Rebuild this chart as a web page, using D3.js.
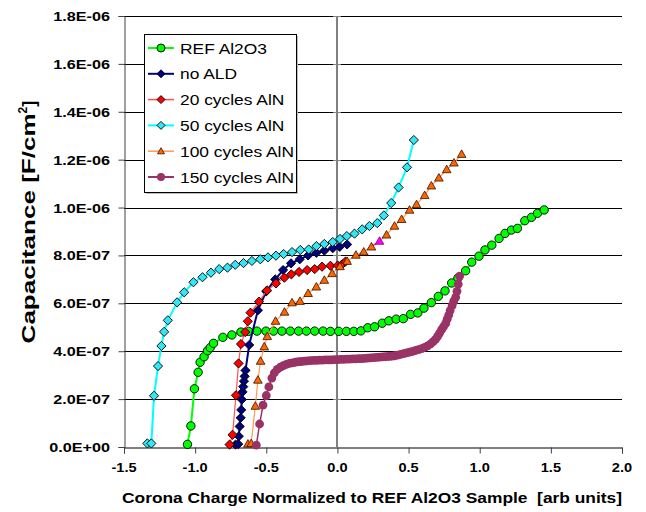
<!DOCTYPE html>
<html><head><meta charset="utf-8">
<script src="https://cdn.jsdelivr.net/npm/d3@7"></script>
<style>
html,body{margin:0;padding:0;background:#fff;}
svg{display:block;font-family:Arial,"Liberation Sans",sans-serif;}
</style></head>
<body>
<svg id="chart" width="646" height="512"></svg>
<script>
// Capacitance values are in units of 1e-7 F/cm^2
const xTicks = [-1.5, -1.0, -0.5, 0.0, 0.5, 1.0, 1.5, 2.0];
const xTickLabels = ["-1.5","-1.0","-0.5","0.0","0.5","1.0","1.5","2.0"];
const yTicks = [0, 2, 4, 6, 8, 10, 12, 14, 16, 18];
const yTickLabels = ["0.0E+00","2.0E-07","4.0E-07","6.0E-07","8.0E-07","1.0E-06","1.2E-06","1.4E-06","1.6E-06","1.8E-06"];
const seriesNames = ["REF Al2O3","no ALD","20 cycles AlN","50 cycles AlN","100 cycles AlN","150 cycles AlN"];

const refAl2O3 = [[-1.054,0.11],[-1.030,0.88],[-1.005,2.43],[-0.979,3.12],[-0.965,3.54],[-0.937,3.77],[-0.913,4.02],[-0.894,4.15],[-0.871,4.33],[-0.805,4.58],[-0.742,4.68],[-0.678,4.80],[-0.625,4.83],[-0.566,4.84],[-0.502,4.84],[-0.449,4.84],[-0.390,4.84],[-0.331,4.84],[-0.273,4.84],[-0.218,4.84],[-0.160,4.84],[-0.101,4.84],[-0.049,4.83],[0.009,4.83],[0.063,4.83],[0.115,4.83],[0.165,4.85],[0.213,4.98],[0.261,5.02],[0.315,5.17],[0.361,5.27],[0.413,5.34],[0.463,5.36],[0.514,5.54],[0.565,5.60],[0.608,5.80],[0.660,6.03],[0.709,6.29],[0.756,6.52],[0.803,6.85],[0.847,7.06],[0.901,7.36],[0.944,7.72],[0.995,7.97],[1.037,8.23],[1.085,8.43],[1.136,8.71],[1.178,8.92],[1.223,9.06],[1.265,9.13],[1.317,9.45],[1.364,9.59],[1.406,9.76],[1.453,9.90]];

const noALD = [[-0.716,0.10],[-0.697,0.12],[-0.693,0.45],[-0.687,0.86],[-0.680,1.22],[-0.676,1.55],[-0.672,1.98],[-0.667,2.30],[-0.662,2.52],[-0.657,2.75],[-0.652,2.95],[-0.646,3.20],[-0.620,4.26],[-0.559,5.71],[-0.500,6.50],[-0.437,7.00],[-0.382,7.39],[-0.326,7.67],[-0.265,7.84],[-0.206,8.00],[-0.148,8.11],[-0.092,8.20],[-0.033,8.30],[0.016,8.36],[0.068,8.46]];

const aln20 = [[-0.758,0.10],[-0.737,0.51],[-0.713,2.16],[-0.695,3.49],[-0.678,4.30],[-0.648,4.80],[-0.630,5.25],[-0.611,5.61],[-0.551,6.07],[-0.495,6.54],[-0.432,6.83],[-0.373,7.07],[-0.324,7.21],[-0.270,7.31],[-0.213,7.39],[-0.160,7.43],[-0.108,7.53],[-0.049,7.57],[0.002,7.58],[0.033,7.63],[0.056,7.74]];

const aln50 = [[-1.336,0.15],[-1.308,0.15],[-1.289,2.14],[-1.261,3.38],[-1.237,4.22],[-1.218,4.81],[-1.192,5.29],[-1.127,6.04],[-1.077,6.46],[-1.012,6.88],[-0.948,7.09],[-0.889,7.28],[-0.831,7.43],[-0.773,7.49],[-0.718,7.61],[-0.660,7.68],[-0.601,7.77],[-0.542,7.84],[-0.488,7.92],[-0.432,7.99],[-0.378,8.06],[-0.319,8.14],[-0.261,8.23],[-0.202,8.25],[-0.148,8.39],[-0.092,8.48],[-0.033,8.56],[0.018,8.69],[0.066,8.81],[0.120,8.91],[0.174,9.09],[0.225,9.23],[0.280,9.35],[0.326,9.67],[0.378,10.19],[0.430,10.84],[0.489,11.68],[0.537,12.82]];

const aln100 = [[-0.629,0.13],[-0.606,0.15],[-0.577,1.71],[-0.559,2.80],[-0.540,3.59],[-0.514,4.19],[-0.493,4.62],[-0.435,5.26],[-0.372,5.64],[-0.319,6.03],[-0.263,6.09],[-0.206,6.42],[-0.148,6.69],[-0.092,6.97],[-0.037,7.25],[0.018,7.54],[0.068,7.76],[0.130,8.02],[0.185,8.15],[0.239,8.36],[0.296,8.60],[0.345,8.86],[0.401,9.23],[0.451,9.51],[0.507,9.90],[0.556,10.13],[0.613,10.51],[0.660,10.91],[0.713,11.24],[0.768,11.59],[0.819,11.87],[0.873,12.23]];
const aln100Odd = [0.296]; // one point drawn in magenta

const aln150 = [[-0.570,0.08],[-0.547,0.96],[-0.523,1.75],[-0.500,2.15],[-0.482,2.51],[-0.461,2.88],[-0.444,3.09],[-0.423,3.24],[-0.401,3.34],[-0.380,3.40],[-0.359,3.45],[-0.338,3.49],[-0.317,3.51],[-0.296,3.54],[-0.275,3.56],[-0.254,3.57],[-0.232,3.59],[-0.211,3.60],[-0.190,3.61],[-0.169,3.62],[-0.148,3.62],[-0.127,3.63],[-0.106,3.63],[-0.085,3.64],[-0.063,3.64],[-0.042,3.64],[-0.021,3.65],[0.000,3.65],[0.021,3.66],[0.042,3.66],[0.063,3.67],[0.085,3.67],[0.106,3.68],[0.127,3.68],[0.148,3.69],[0.169,3.69],[0.190,3.70],[0.211,3.71],[0.232,3.72],[0.254,3.73],[0.275,3.74],[0.296,3.75],[0.317,3.76],[0.338,3.77],[0.359,3.78],[0.380,3.79],[0.401,3.81],[0.423,3.84],[0.444,3.87],[0.465,3.90],[0.486,3.93],[0.507,3.96],[0.528,3.99],[0.549,4.03],[0.570,4.07],[0.592,4.11],[0.613,4.16],[0.634,4.22],[0.655,4.31],[0.673,4.40],[0.690,4.50],[0.704,4.62],[0.718,4.76],[0.732,4.90],[0.746,5.03],[0.761,5.16],[0.771,5.34],[0.782,5.51],[0.792,5.70],[0.806,5.90],[0.817,6.08],[0.831,6.25],[0.840,6.50],[0.849,6.80],[0.859,7.14]];

const colors = {
  ref:   {line:"#00ff00", fill:"#00ff00", stroke:"#000"},
  noald: {line:"#000080", fill:"#000080", stroke:"#000"},
  a20:   {line:"#ff5050", fill:"#ff0000", stroke:"#000"},
  a50:   {line:"#00ffff", fill:"#33e6f5", stroke:"#000"},
  a100:  {line:"#ff9955", fill:"#ff6600", stroke:"#000"},
  a150:  {line:"#993366", fill:"#993366", stroke:"none"}
};

const W = 646, H = 512;
const m = {left:124, right:24, top:16, bottom:65};
const svg = d3.select("#chart");
const x = d3.scaleLinear().domain([-1.5, 2.0]).range([m.left, W - m.right]);
const y = d3.scaleLinear().domain([0, 18]).range([H - m.bottom, m.top]);
const FONT = "Arial, 'Liberation Sans', sans-serif";

// gridlines
svg.append("g").selectAll("line").data(yTicks.slice(1)).join("line")
  .attr("x1", m.left).attr("x2", W - m.right)
  .attr("y1", d => Math.round(y(d)) + 0.5).attr("y2", d => Math.round(y(d)) + 0.5)
  .attr("stroke", "#000").attr("stroke-width", 1);

// vertical zero line (gray)
svg.append("line").attr("x1", Math.round(x(0))).attr("x2", Math.round(x(0)))
  .attr("y1", m.top).attr("y2", H - m.bottom)
  .attr("stroke", "#808080").attr("stroke-width", 2);
svg.append("g").selectAll("line").data(yTicks.slice(1)).join("line")
  .attr("x1", Math.round(x(0)) - 4).attr("x2", Math.round(x(0)) + 4)
  .attr("y1", d => Math.round(y(d)) + 0.5).attr("y2", d => Math.round(y(d)) + 0.5)
  .attr("stroke", "#808080").attr("stroke-width", 1);

// y axis (left)
const yAxis = d3.axisLeft(y).tickValues(yTicks).tickSize(6).tickPadding(0)
  .tickFormat(() => "");
const gy = svg.append("g").attr("transform", `translate(${m.left + 0.5},0)`).call(yAxis);
gy.select(".domain").attr("stroke", "#404040").attr("stroke-width", 1);
gy.selectAll(".tick line").attr("stroke", "#404040");
svg.append("g").selectAll("text").data(yTicks).join("text")
  .attr("transform", d => `translate(110,${y(d) + 5}) scale(1.2,1)`)
  .attr("text-anchor", "end").attr("font-size", 13.5).attr("font-weight", "bold")
  .attr("font-family", FONT).attr("fill", "#000")
  .text((d, i) => yTickLabels[i]);

// x axis
const xAxis = d3.axisBottom(x).tickValues(xTicks).tickSize(6).tickPadding(0)
  .tickFormat(() => "");
const gx = svg.append("g").attr("transform", `translate(0,${Math.round(y(0)) + 0.5})`).call(xAxis);
gx.select(".domain").attr("stroke", "#000").attr("stroke-width", 1);
gx.selectAll(".tick line").attr("stroke", "#404040");
svg.append("g").selectAll("text").data(xTicks).join("text")
  .attr("transform", d => `translate(${x(d)},${y(0) + 25}) scale(1.08,1)`)
  .attr("text-anchor", "middle").attr("font-size", 13.5).attr("font-weight", "bold")
  .attr("font-family", FONT).attr("fill", "#000")
  .text((d, i) => xTickLabels[i]);

// axis titles
svg.append("text").attr("x", 372).attr("y", 503).attr("text-anchor", "middle")
  .attr("font-size", 15.5).attr("font-weight", "bold")
  .attr("textLength", 500).attr("lengthAdjust", "spacingAndGlyphs")
  .style("white-space", "pre")
  .text("Corona Charge Normalized to REF Al2O3 Sample  [arb units]");
const yt = svg.append("text").attr("transform", "translate(35,222) rotate(-90)")
  .attr("text-anchor", "middle").attr("font-size", 18.5).attr("font-weight", "bold");
yt.append("tspan").attr("textLength", 230).attr("lengthAdjust", "spacingAndGlyphs").text("Capacitance [F/cm");
yt.append("tspan").attr("dy", -8).attr("font-size", 12).text("2");
yt.append("tspan").attr("dy", 8).text("]");

// marker shapes
const diamond = r => `M0,${-r}L${r},0L0,${r}L${-r},0Z`;
const triangle = r => `M0,${-r}L${r},${r*0.75}L${-r},${r*0.75}Z`;

function drawSeries(data, c, shape, lw, oddXs) {
  const line = d3.line().x(d => x(d[0])).y(d => y(d[1]));
  const g = svg.append("g");
  g.append("path").datum(data).attr("d", line).attr("fill", "none")
    .attr("stroke", c.line).attr("stroke-width", lw).attr("stroke-linejoin", "round");
  if (oddXs) {
    data.forEach((d, i) => {
      if (oddXs.includes(d[0]) && i > 0) {
        g.append("path").datum([data[i-1], d]).attr("d", line).attr("fill","none")
          .attr("stroke", "#ff00ff").attr("stroke-width", lw);
      }
    });
  }
  const pts = g.selectAll(".pt").data(data).join("g")
    .attr("transform", d => `translate(${x(d[0])},${y(d[1])})`);
  const isOdd = d => oddXs && oddXs.includes(d[0]);
  if (shape === "circle") {
    pts.append("circle").attr("r", c.stroke === "none" ? 4.4 : 4.2)
      .attr("fill", c.fill).attr("stroke", c.stroke === "none" ? null : c.stroke).attr("stroke-width", 0.9);
  } else if (shape === "diamond") {
    pts.append("path").attr("d", diamond(4.6)).attr("fill", c.fill).attr("stroke", c.stroke).attr("stroke-width", 0.9);
  } else {
    pts.append("path").attr("d", triangle(4.3)).attr("fill", d => isOdd(d) ? "#ff00ff" : c.fill)
      .attr("stroke", d => isOdd(d) ? "#800080" : "#331100").attr("stroke-width", 0.8);
  }
}

drawSeries(refAl2O3, colors.ref, "circle", 2);
drawSeries(noALD, colors.noald, "diamond", 2);
drawSeries(aln20, colors.a20, "diamond", 1.2);
drawSeries(aln50, colors.a50, "diamond", 2);
drawSeries(aln100, colors.a100, "triangle", 1.2, aln100Odd);
drawSeries(aln150, colors.a150, "circle", 1.5);

// legend
const leg = svg.append("g");
const lx = 144, ly = 34, lw = 152, lh = 158;
leg.append("rect").attr("x", lx + 2).attr("y", ly + 2).attr("width", lw).attr("height", lh).attr("fill", "#bbb");
leg.append("rect").attr("x", lx + 0.5).attr("y", ly + 0.5).attr("width", lw).attr("height", lh)
  .attr("fill", "#fff").attr("stroke", "#000").attr("stroke-width", 1);
const legendItems = [
  {c: colors.ref, shape: "circle"},
  {c: colors.noald, shape: "diamond"},
  {c: colors.a20, shape: "diamond"},
  {c: colors.a50, shape: "diamond"},
  {c: colors.a100, shape: "triangle"},
  {c: colors.a150, shape: "circle"}
];
legendItems.forEach((it, i) => {
  const cy = 48 + i * 25.8;
  leg.append("line").attr("x1", 148).attr("x2", 174).attr("y1", cy).attr("y2", cy)
    .attr("stroke", it.c.line).attr("stroke-width", it.c === colors.a20 || it.c === colors.a100 ? 1.5 : 2);
  const mg = leg.append("g").attr("transform", `translate(161,${cy})`);
  if (it.shape === "circle") mg.append("circle").attr("r", 4).attr("fill", it.c.fill)
    .attr("stroke", it.c.stroke === "none" ? null : it.c.stroke).attr("stroke-width", 0.9);
  else if (it.shape === "diamond") mg.append("path").attr("d", diamond(4)).attr("fill", it.c.fill).attr("stroke", "#000").attr("stroke-width", 0.9);
  else mg.append("path").attr("d", triangle(3.5)).attr("fill", it.c.fill).attr("stroke", "#331100").attr("stroke-width", 0.8);
  leg.append("text").attr("transform", `translate(180,${cy + 5.5}) scale(1.2,1)`)
    .attr("font-size", 14.5).attr("fill", "#000").attr("font-family", FONT)
    .text(seriesNames[i]);
});
</script>
</body></html>
